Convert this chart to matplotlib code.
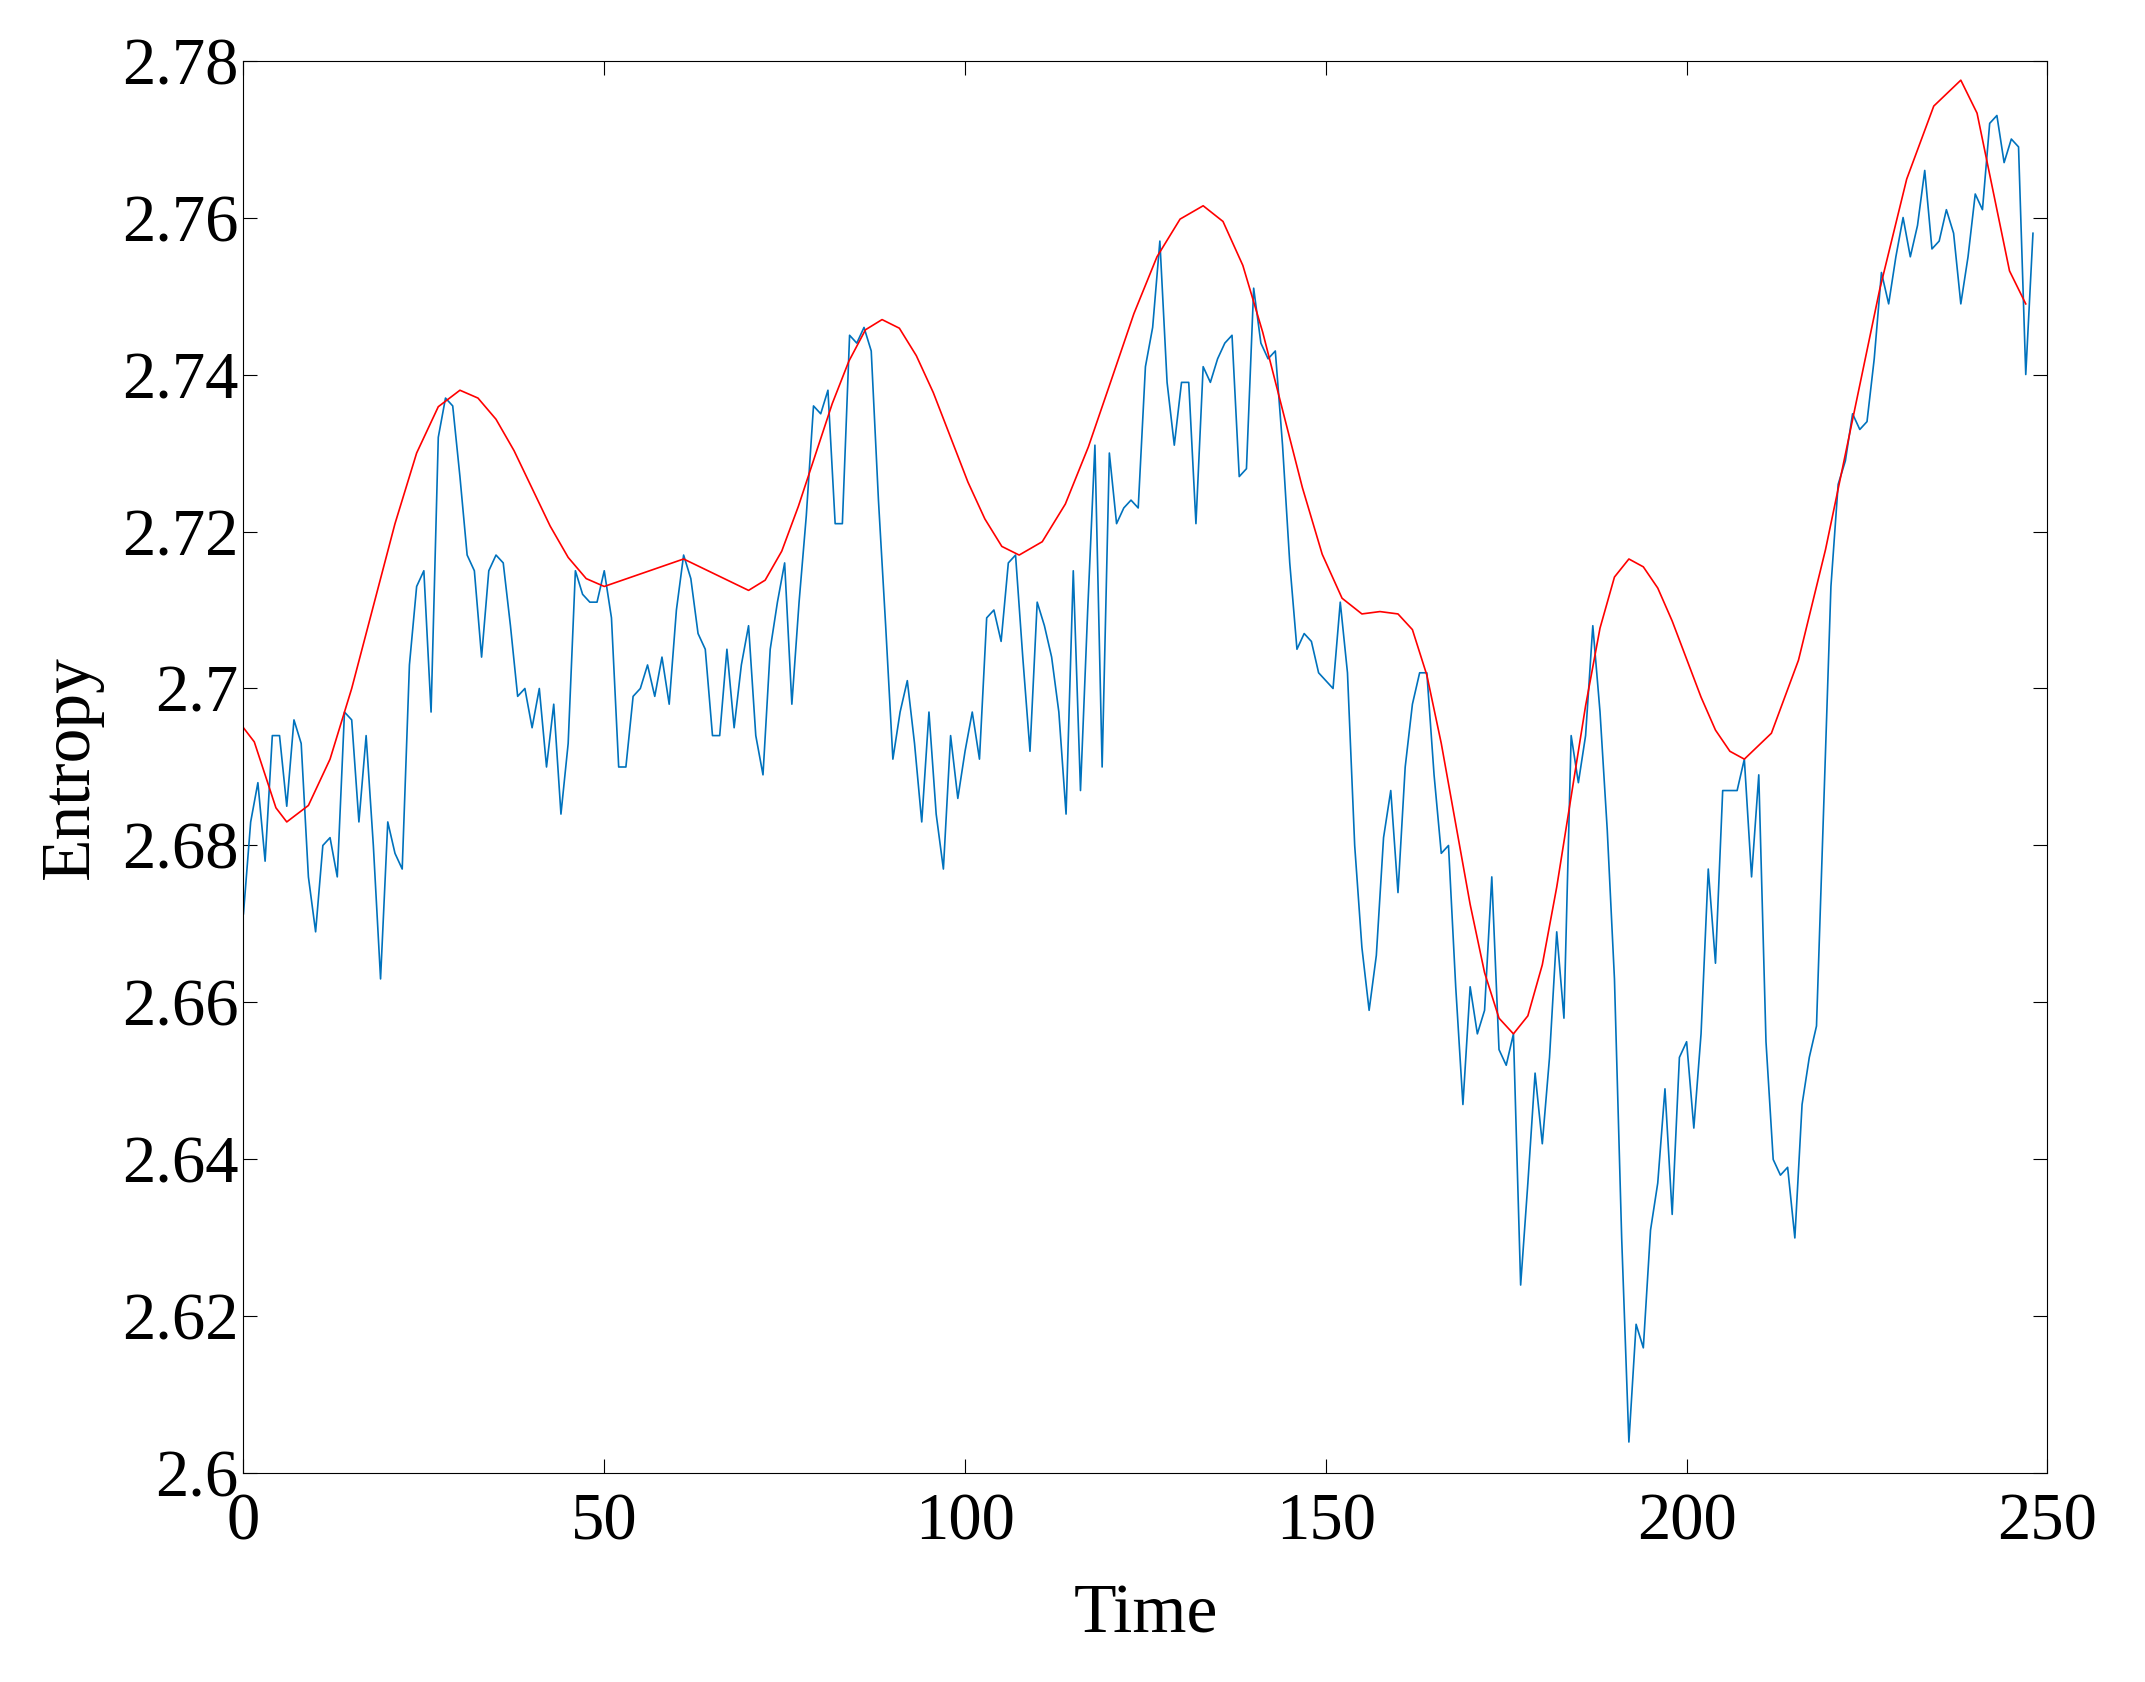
import matplotlib
matplotlib.use("Agg")
import matplotlib.pyplot as plt
import numpy as np

entropy = [2.6713,2.683,2.688,2.678,2.694,2.694,2.685,2.696,2.693,2.676,
2.669,2.680,2.681,2.676,2.697,2.696,2.683,2.694,2.680,2.663,
2.683,2.679,2.677,2.703,2.713,2.715,2.697,2.732,2.737,2.736,
2.727,2.717,2.715,2.704,2.715,2.717,2.716,2.708,2.699,2.700,
2.695,2.700,2.690,2.698,2.684,2.693,2.715,2.712,2.711,2.711,
2.715,2.709,2.690,2.690,2.699,2.700,2.703,2.699,2.704,2.698,
2.710,2.717,2.714,2.707,2.705,2.694,2.694,2.705,2.695,2.703,
2.708,2.694,2.689,2.705,2.711,2.716,2.698,2.711,2.722,2.736,
2.735,2.738,2.721,2.721,2.745,2.744,2.746,2.743,2.724,2.708,
2.691,2.697,2.701,2.693,2.683,2.697,2.684,2.677,2.694,2.686,
2.692,2.697,2.691,2.709,2.710,2.706,2.716,2.717,2.704,2.692,
2.711,2.708,2.704,2.697,2.684,2.715,2.687,2.710,2.731,2.690,
2.730,2.721,2.723,2.724,2.723,2.741,2.746,2.757,2.739,2.731,
2.739,2.739,2.721,2.741,2.739,2.742,2.744,2.745,2.727,2.728,
2.751,2.744,2.742,2.743,2.731,2.716,2.705,2.707,2.706,2.702,
2.701,2.700,2.711,2.702,2.680,2.667,2.659,2.666,2.681,2.687,
2.674,2.690,2.698,2.702,2.702,2.689,2.679,2.680,2.662,2.647,
2.662,2.656,2.659,2.676,2.654,2.652,2.656,2.624,2.637,2.651,
2.642,2.653,2.669,2.658,2.694,2.688,2.694,2.708,2.697,2.682,
2.663,2.630,2.604,2.619,2.616,2.631,2.637,2.649,2.633,2.653,
2.655,2.644,2.656,2.677,2.665,2.687,2.687,2.687,2.691,2.676,
2.689,2.655,2.640,2.638,2.639,2.630,2.647,2.653,2.657,2.685,
2.713,2.726,2.729,2.735,2.733,2.734,2.742,2.753,2.749,2.755,
2.760,2.755,2.759,2.766,2.756,2.757,2.761,2.758,2.749,2.755,
2.763,2.761,2.772,2.773,2.767,2.770,2.769,2.740,2.758]
time = list(range(len(entropy)))

fit_t = [0,1.5,3,4.5,6,9,12,15,18,21,24,27,30,32.5,35,37.5,40,42.5,45,47.5,50,55.5,61,65.5,70,
72.3,74.6,76.9,79.25,81.6,83.9,86.2,88.5,90.9,93.25,95.6,98,100.4,102.75,105.1,107.5,
110.7,113.9,117.1,120.25,123.4,126.6,129.8,133,135.75,138.5,141.25,144,146.75,149.5,152.25,155,157.5,160,
162,164,166,168,170,172,174,176,178,180,182,184,186,188,190,192,194,196,198,200,202,204,206,208,
211.75,215.5,219.25,223,226.75,230.5,234.25,238,240.25,242.5,244.75,247]
fit_v = [2.695,2.6932,2.689,2.6848,2.683,2.6851,2.6910,2.7000,2.7105,2.7210,2.7300,2.7359,2.738,2.7370,2.7343,2.7303,2.7255,2.7207,2.7167,2.7140,2.713,2.71475,2.7165,2.7145,2.7125,
2.7138,2.7175,2.7232,2.72975,2.7363,2.7417,2.7457,2.747,2.7459,2.7424,2.7377,2.732,2.7263,2.7216,2.7181,2.717,
2.7187,2.7235,2.7308,2.73925,2.74775,2.7550,2.7598,2.7615,2.7595,2.7539,2.7454,2.7355,2.7256,2.7171,2.7115,2.7095,2.7098,2.7095,
2.7075,2.7017,2.693,2.68275,2.6725,2.6638,2.658,2.656,2.6583,2.6648,2.6747,2.68625,2.6978,2.7077,2.7142,2.7165,2.7155,2.7128,2.7086,2.70375,2.6989,2.6947,2.692,2.691,
2.6943,2.7036,2.7177,2.73425,2.7508,2.7649,2.7742,2.7775,2.7733,2.76325,2.7532,2.749]

plt.rcParams['font.family'] = ['Liberation Serif']
fig = plt.figure(figsize=(21.45, 16.82), dpi=100)
ax = fig.add_axes([0.1135, 0.124, 0.8465 - 0.0055, 0.840])
ax.plot(time, entropy, color='#0072BD', lw=1.2)
ax.plot(fit_t, fit_v, color='red', lw=1.2)
ax.set_xlim(0, 250)
ax.set_ylim(2.6, 2.78)
ax.set_xticks([0,50,100,150,200,250])
ax.set_yticks([2.6,2.62,2.64,2.66,2.68,2.7,2.72,2.74,2.76,2.78])
ax.set_yticklabels(['2.6','2.62','2.64','2.66','2.68','2.7','2.72','2.74','2.76','2.78'])
ax.tick_params(direction='in', labelsize=48, length=10, top=True, right=True, width=0.8)
ax.tick_params(axis='x', pad=14)
for s in ax.spines.values():
    s.set_linewidth(0.8)
ax.set_xlabel('Time', fontsize=50, labelpad=22)
ax.set_ylabel('Entropy', fontsize=50, labelpad=14)
fig.savefig('out.png', dpi=100)
